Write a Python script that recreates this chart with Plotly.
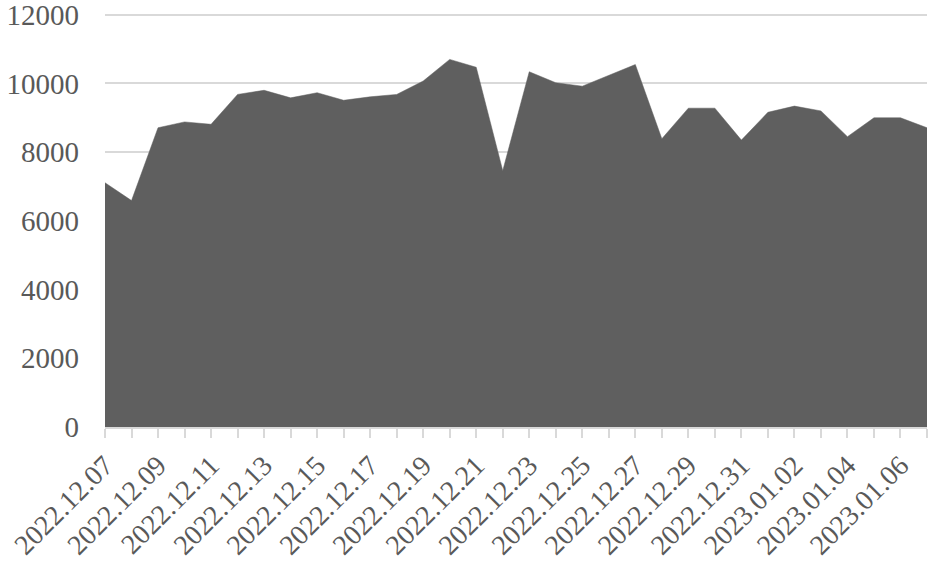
import plotly.graph_objs as go

# Daten
dates = [
    "2022.12.07", "2022.12.08", "2022.12.09", "2022.12.10", "2022.12.11",
    "2022.12.12", "2022.12.13", "2022.12.14", "2022.12.15", "2022.12.16",
    "2022.12.17", "2022.12.18", "2022.12.19", "2022.12.20", "2022.12.21",
    "2022.12.22", "2022.12.23", "2022.12.24", "2022.12.25", "2022.12.26",
    "2022.12.27", "2022.12.28", "2022.12.29", "2022.12.30", "2022.12.31",
    "2023.01.01", "2023.01.02", "2023.01.03", "2023.01.04", "2023.01.05",
    "2023.01.06", "2023.01.07",
]
values = [
    7110, 6590, 8710, 8880, 8810, 9680, 9800, 9580, 9730, 9510,
    9610, 9680, 10070, 10700, 10470, 7460, 10340, 10020, 9920, 10240,
    10550, 8390, 9280, 9280, 8350, 9160, 9340, 9200, 8450, 9000,
    9000, 8710,
]
y_ticks = [0, 2000, 4000, 6000, 8000, 10000, 12000]

# nur jedes zweite Datum beschriften
tick_text = [d if i % 2 == 0 else "" for i, d in enumerate(dates)]

text_color = "#595959"
grid_color = "#d9d9d9"

trace = go.Scatter(
    x=dates,
    y=values,
    mode="lines",
    fill="tozeroy",
    fillcolor="#5f5f5f",
    line=dict(color="#5f5f5f", width=0.5),
    showlegend=False,
    hoverinfo="x+y",
)

layout = go.Layout(
    width=931,
    height=566,
    margin=dict(l=105, r=4, t=13, b=139),
    paper_bgcolor="white",
    plot_bgcolor="white",
    font=dict(family="Liberation Serif, Times New Roman, serif", size=29, color=text_color),
    xaxis=dict(
        type="category",
        range=[0, len(dates) - 1],
        tickmode="array",
        tickvals=dates,
        ticktext=tick_text,
        tickangle=-45,
        tickfont=dict(size=28),
        ticks="outside",
        ticklen=9,
        tickwidth=1.5,
        tickcolor=grid_color,
        showline=True,
        linecolor=grid_color,
        linewidth=1.5,
        showgrid=False,
        zeroline=False,
        automargin=False,
        ticklabeloverflow="allow",
    ),
    yaxis=dict(
        range=[0, 12050],
        tickmode="array",
        tickvals=y_ticks,
        ticktext=[str(v) for v in y_ticks],
        showgrid=True,
        gridcolor=grid_color,
        gridwidth=1.5,
        zeroline=False,
        showline=False,
        ticks="",
        ticklabelstandoff=25,
        automargin=False,
        ticklabeloverflow="allow",
    ),
    hovermode="closest",
)

fig = go.Figure(data=[trace], layout=layout)
# Seitenrand entfernen, damit die Figur bei (0,0) beginnt
fig.write_html(
    "out.html",
    config={"displayModeBar": False},
    post_script="document.body.style.margin='0';",
)
